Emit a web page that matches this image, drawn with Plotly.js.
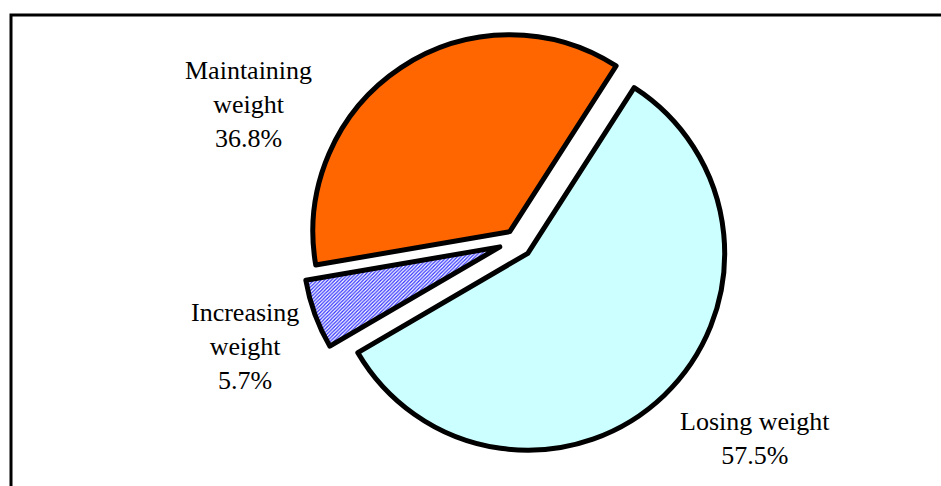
<!DOCTYPE html>
<html>
<head>
<meta charset="utf-8">
<script src="https://cdn.plot.ly/plotly-3.0.1.min.js"></script>
<style>html,body{margin:0;padding:0;background:#fff;}#chart{width:941px;height:486px;}</style>
</head>
<body>
<div id="chart"></div>
<script>
const categories = ["Losing weight", "Increasing weight", "Maintaining weight"];
const shares = [57.5, 5.7, 36.8];
const labelLines = [["Losing weight"], ["Increasing", "weight"], ["Maintaining", "weight"]];
const sliceColors = ["#CCFFFF", "#6666FF", "#FF6600"];

const W = 941, H = 486;
const px = x => x / W;
const py = y => 1 - y / H;

const trace = {
  type: "pie",
  labels: categories,
  values: shares,
  sort: false,
  direction: "clockwise",
  rotation: 32.7,
  pull: [0.087, 0.087, 0.057],
  textinfo: "none",
  hoverinfo: "label+percent",
  showlegend: false,
  domain: {x: [0.3043, 0.7923], y: [py(455), py(27)]},
  marker: {
    colors: sliceColors,
    line: {color: "#000000", width: 5},
    pattern: {
      shape: ["", "/", ""],
      fgcolor: ["#CCFFFF", "#3333FF", "#FF6600"],
      bgcolor: ["#CCFFFF", "#FFFFFF", "#FF6600"],
      size: 2.5,
      solidity: 0.5
    }
  }
};

const labelPos = [[755, 438], [245, 346], [249, 104]];
const annotations = categories.map((c, i) => ({
  xref: "paper", yref: "paper",
  x: px(labelPos[i][0]), y: py(labelPos[i][1]),
  xanchor: "center", yanchor: "middle",
  showarrow: false,
  align: "center",
  text: labelLines[i].join("<br>") + "<br>" + shares[i].toFixed(1) + "%",
  font: {family: "Liberation Serif, Times New Roman, serif", size: 26, color: "#000"}
}));

const layout = {
  width: W, height: H,
  margin: {l: 0, r: 0, t: 0, b: 0},
  paper_bgcolor: "#fff",
  plot_bgcolor: "#fff",
  showlegend: false,
  annotations: annotations,
  shapes: [{
    type: "rect", xref: "paper", yref: "paper",
    x0: px(11), x1: 1.02, y0: -0.02, y1: py(15),
    line: {color: "#000", width: 3}, fillcolor: "rgba(0,0,0,0)", layer: "below"
  }]
};

Plotly.newPlot("chart", [trace], layout, {displayModeBar: false, staticPlot: true});
</script>
</body>
</html>
